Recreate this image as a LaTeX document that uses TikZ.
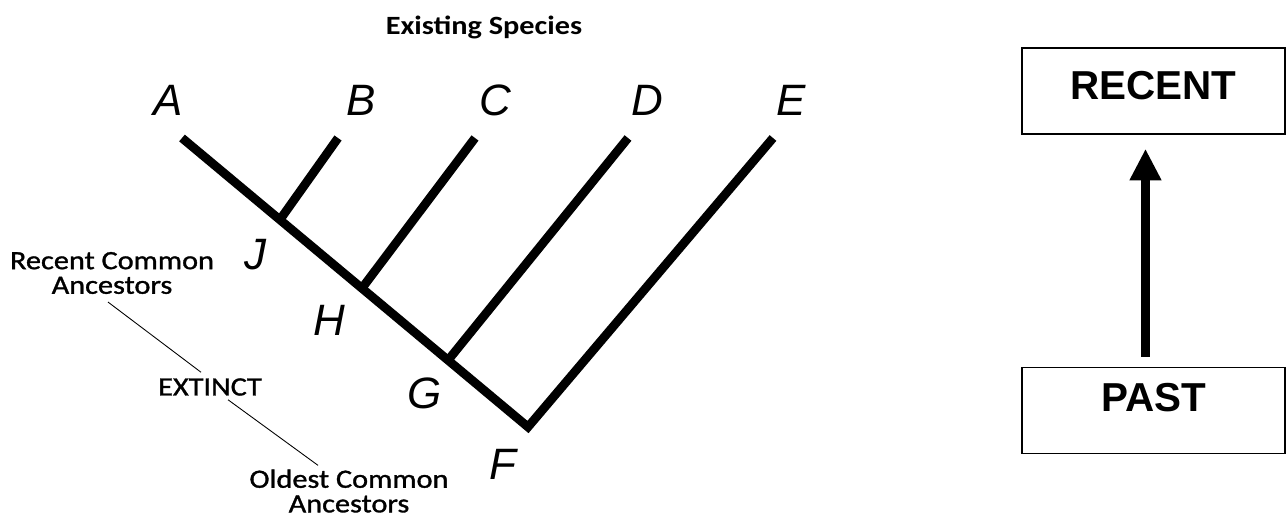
\documentclass[tikz,border=0pt]{standalone}
\usepackage{fontspec}
\setmainfont{Liberation Sans}
\newfontfamily\calib[FakeStretch=1.15,FakeBold=1.2]{Carlito}
\newfontfamily\calibhead[FakeStretch=1.15]{Carlito}
\usetikzlibrary{calc,arrows.meta}

\begin{document}
\begin{tikzpicture}[x=0.02cm,y=-0.02cm,>={Triangle[width=17pt,length=18pt]}]
    \useasboundingbox (0,0) rectangle (1286,520);
    \tikzset{branch/.style={line width=5pt,line join=miter},
      tip/.style={font=\fontsize{25}{28}\selectfont\itshape},
      note/.style={font=\calib\fontsize{15}{14}\selectfont,align=center,inner sep=1pt},
      box/.style={draw,line width=0.9pt,minimum width=5.26cm,minimum height=1.72cm}}
    \node (title) at (484,27) [font=\calibhead\bfseries\fontsize{15}{17}\selectfont]{Existing Species};
    % species and ancestors
    \coordinate (a) at (182,138);
    \coordinate (b) at (338,138);
    \coordinate (c) at (475,138);
    \coordinate (d) at (628,138);
    \coordinate (e) at (773,138);
    \coordinate (f) at (528,427);
    \coordinate (j) at ($(a)!0.283!(f)$);
    \coordinate (h) at ($(a)!0.52!(f)$);
    \coordinate (g) at ($(a)!0.769!(f)$);
    \draw [branch] (a) -- (f) -- (e);
    \draw [branch] (j) -- (b);
    \draw [branch] (h) -- (c);
    \draw [branch] (g) -- (d);
    \node (lA) at (168,100) [tip]{A};
    \node (lB) at (361,100) [tip]{B};
    \node (lC) at (495,100) [tip]{C};
    \node (lD) at (647,100) [tip]{D};
    \node (lE) at (791,100) [tip]{E};
    \node (lJ) at (255,255) [tip]{J};
    \node (lH) at (329,320) [tip]{H};
    \node (lG) at (425,393) [tip]{G};
    \node (lF) at (503,464) [tip]{F};
    \node (recentanc) at (112,273) [note]{Recent Common\\Ancestors};
    \node (extinct) at (210,387) [note]{EXTINCT};
    \node (oldestanc) at (349,491) [note]{Oldest Common\\Ancestors};
    \draw [line width=0.5pt] ($(recentanc.south)+(-4,6)$) -- ($(extinct.north)+(-9,-4)$);
    \draw [line width=0.5pt] ($(extinct.south)+(18,2)$) -- ($(oldestanc.north)+(-31,-2)$);
    % time axis
    \node (recent) at (1153.5,91) [box]{};
    \node (past) at (1153.5,410.5) [box]{};
    \node at ($(recent)+(0,-5)$) [font=\bfseries\fontsize{23}{26}\selectfont]{RECENT};
    \node at ($(past)+(0,-13)$) [font=\bfseries\fontsize{23}{26}\selectfont]{PAST};
    \draw [->,line width=5.5pt] ($(past.north)+(-8,-10)$) -- ($(recent.south)+(-8,14)$);
\end{tikzpicture}
\end{document}
